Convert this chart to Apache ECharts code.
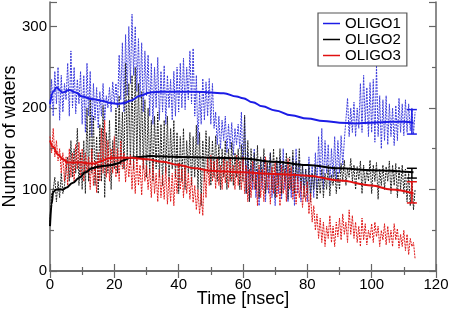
<!DOCTYPE html>
<html>
<head>
<meta charset="utf-8">
<script src="https://cdn.jsdelivr.net/npm/echarts@6/dist/echarts.min.js"></script>
<style>
  html, body { margin: 0; padding: 0; background: #fff; }
  #chart { width: 450px; height: 311px; }
</style>
</head>
<body>
<div id="chart"></div>
<script>
// raw trajectories, one value every 0.5 ns from t = 0
var dt = 0.5;
var oligo1Raw = [
  200,235,190,245,205,250,185,240,195,230, 210,255,190,270,200,250,193,235,205,245,
  180,240,170,255,190,245,165,230,185,225, 175,220,190,230,185,215,200,225,195,232,
  205,230,200,265,210,280,195,290,215,300, 230,315,240,300,220,285,212,280,195,270,
  215,265,190,255,180,250,200,262,185,245, 195,252,180,240,200,235,185,245,190,250,
  195,255,200,261,198,250,210,270,205,273, 190,240,155,220,180,236,185,232,190,236,
  180,230,175,195,155,190,150,185,160,190, 145,180,150,182,142,175,155,180,150,195,
  120,190,95,145,85,130,100,150,90,125, 80,135,100,140,85,130,95,145,90,120,
  80,135,95,140,88,150,100,130,85,125, 90,140,80,150,95,135,85,130,100,125,
  85,140,95,130,90,145,100,165,110,175, 100,160,120,155,105,150,115,165,110,160,
  120,166,130,160,160,212,165,200,170,207, 165,200,175,230,170,240,180,225,165,231,
  170,235,158,252,165,215,150,210,160,215, 155,205,165,200,154,203,160,212,170,205,
  166,210,170,205,172,200,168,195
];
var oligo2Raw = [
  60,95,100,115,85,110,90,120,95,105, 105,140,110,160,115,150,120,175,105,145,
  100,160,95,200,110,212,120,190,105,165, 95,180,110,203,90,170,120,185,100,160,
  125,200,120,215,130,195,125,255,140,230, 130,240,125,250,135,230,140,220,125,210,
  115,200,120,185,110,190,125,195,115,180, 105,185,120,190,110,175,125,185,115,170,
  95,165,110,175,100,160,120,170,105,165, 115,179,100,170,80,160,110,172,120,165,
  105,160,115,166,110,155,100,150,115,160, 100,150,110,158,105,145,115,150,100,155,
  110,191,95,160,85,150,110,145,100,154, 90,140,110,150,95,135,115,145,100,150,
  90,140,105,150,95,135,110,145,88,140, 100,148,95,135,110,150,100,130,90,125,
  95,128,85,120,100,130,88,115,95,125, 90,120,100,130,92,118,105,128,95,122,
  100,132,110,136,105,125,115,138,110,130, 100,128,112,135,95,130,105,125,110,136,
  95,130,110,133,88,125,105,130,100,128, 110,135,95,130,105,132,90,128,100,130,
  95,125,85,120,80,115,75,100
];
var oligo3Raw = [
  165,145,175,140,160,135,150,120,145,110, 140,105,150,115,145,110,155,125,158,115,
  150,110,145,120,140,100,150,105,135,96, 145,110,175,120,185,115,160,110,150,120,
  165,115,150,110,160,125,145,109,140,115, 142,100,135,95,140,105,130,93,138,110,
  130,100,125,90,133,95,120,85,125,90, 118,88,128,82,115,85,120,80,125,95,
  133,100,125,90,130,95,120,88,115,84, 105,75,100,70,95,68,125,90,140,105,
  142,110,135,101,140,105,130,100,138,108, 135,102,140,110,130,100,142,105,135,100,
  140,95,130,85,125,90,135,100,120,80, 130,90,125,85,140,100,120,82,128,95,
  135,90,120,80,130,95,125,85,138,100, 128,88,120,82,115,90,110,78,105,85,
  110,70,95,60,80,50,70,40,65,35, 60,30,55,40,68,35,55,30,60,42,
  65,38,70,45,60,35,75,45,68,40, 60,35,55,30,65,38,58,32,50,40,
  58,35,60,42,55,30,50,38,58,32, 55,35,50,30,58,38,52,28,45,30,
  50,25,45,20,40,30,35,15
];

// running averages (time, value)
var oligo1AvgT = [0,1,2,4,6,8,10,13,16,19,21,23,25,28,31,35,40,45,50,54,58,60,63,66,70,75,80,85,90,95,100,106,110,113];
var oligo1AvgV = [205,220,225,219,222,219,214,211,209,206,205,206,209,215,219,220,220,220,219,218,214,212,207,202,197,191,187,184,182,181,182,183,183,182];
var oligo2AvgT = [0,0.5,1,2,4,5,7,9,11,13,15,17,19,21,23,25,28,31,40,50,60,70,80,90,100,113];
var oligo2AvgV = [55,82,97,100,100,102,108,114,121,126,128,129,130,132,136,139,140,141,140,139,138,134,130,126,123.5,121];
var oligo3AvgT = [0,1,2.5,4,5.6,8,10,12,14,16,18,20,25,30,35,40,45,50,55,60,70,80,90,100,106,113];
var oligo3AvgV = [160,152,143,137,133,133,133,132,132,135,138,139,139,137,134,130,126,123,122,121,119,117,111,105,100,95];

// error bars at the end of the runs
var errT = [112.5, 112.5, 112.5];
var errLow = [168, 114, 83.5];
var errHigh = [198, 126, 109.5];

var names = ['OLIGO1', 'OLIGO2', 'OLIGO3'];
var avgColors = ['#1c1ce6', '#000000', '#e01010'];
var rawColors = ['#3c3cdc', '#222222', '#e01818'];

function rawPairs(arr) {
  return arr.map(function (v, i) { return [i * dt, v]; });
}
function avgPairs(ts, vs) {
  return ts.map(function (t, i) { return [t, vs[i]]; });
}

var chart = echarts.init(document.getElementById('chart'));
var frame = '#666';
var font = 'Liberation Sans';

var series = [];
[oligo1Raw, oligo2Raw, oligo3Raw].forEach(function (arr, k) {
  series.push({
    name: names[k] + ' raw',
    type: 'line',
    data: rawPairs(arr),
    showSymbol: false,
    symbol: 'none',
    silent: true,
    animation: false,
    lineStyle: { color: rawColors[k], width: 1, type: [2, 1] },
    z: 2
  });
});
[[oligo1AvgT, oligo1AvgV], [oligo2AvgT, oligo2AvgV], [oligo3AvgT, oligo3AvgV]].forEach(function (p, k) {
  series.push({
    name: names[k],
    type: 'line',
    data: avgPairs(p[0], p[1]),
    smooth: 0.4,
    smoothMonotone: 'x',
    showSymbol: false,
    symbol: 'none',
    animation: false,
    itemStyle: { color: avgColors[k] },
    lineStyle: { color: avgColors[k], width: 2 },
    z: 4
  });
});
series.push({
  type: 'custom',
  animation: false,
  silent: true,
  z: 5,
  data: errT.map(function (t, i) { return [t, errLow[i], errHigh[i], i]; }),
  renderItem: function (params, api) {
    var lo = api.coord([api.value(0), api.value(1)]);
    var hi = api.coord([api.value(0), api.value(2)]);
    var c = avgColors[api.value(3)];
    var w = 5;
    var st = { stroke: c, lineWidth: 1.5 };
    return {
      type: 'group',
      children: [
        { type: 'line', shape: { x1: lo[0], y1: lo[1], x2: hi[0], y2: hi[1] }, style: st },
        { type: 'line', shape: { x1: lo[0] - w, y1: lo[1], x2: lo[0] + w, y2: lo[1] }, style: st },
        { type: 'line', shape: { x1: hi[0] - w, y1: hi[1], x2: hi[0] + w, y2: hi[1] }, style: st }
      ]
    };
  }
});

function xAx(pos, labels) {
  return {
    type: 'value', position: pos, min: 0, max: 120, interval: 20,
    name: labels ? 'Time [nsec]' : '',
    nameLocation: 'middle', nameGap: 19, nameMoveOverlap: false,
    nameTextStyle: { fontFamily: font, fontSize: 18, color: '#000', verticalAlign: 'top' },
    axisLine: { show: true, lineStyle: { color: frame, width: 1.5 } },
    axisTick: { show: true, inside: true, length: 7, lineStyle: { color: frame, width: 1.2 } },
    minorTick: { show: true, splitNumber: 2, length: 4, lineStyle: { color: frame, width: 1.2 } },
    axisLabel: { show: labels, margin: 6, fontFamily: font, fontSize: 15, color: '#000' },
    splitLine: { show: false }
  };
}
function yAx(pos, labels) {
  return {
    type: 'value', position: pos, min: 0, max: 330, interval: 100,
    name: labels ? 'Number of waters' : '',
    nameLocation: 'middle', nameGap: 31, nameRotate: 90, nameMoveOverlap: false,
    nameTextStyle: { fontFamily: font, fontSize: 18, color: '#000' },
    axisLine: { show: true, onZero: false, lineStyle: { color: frame, width: 1.5 } },
    axisTick: { show: true, inside: true, length: 7, lineStyle: { color: frame, width: 1.2 } },
    minorTick: { show: true, splitNumber: 2, length: 4, lineStyle: { color: frame, width: 1.2 } },
    axisLabel: { show: labels, margin: 3, fontFamily: font, fontSize: 15, color: '#000', showMaxLabel: false },
    splitLine: { show: false }
  };
}

var option = {
  backgroundColor: '#fff',
  animation: false,
  grid: { left: 50, right: 14, top: 2, bottom: 40, containLabel: false, outerBoundsMode: 'none' },
  xAxis: [xAx('bottom', true), xAx('top', false)],
  yAxis: [yAx('left', true), yAx('right', false)],
  legend: {
    data: names,
    orient: 'vertical',
    left: 318, top: 13,
    icon: 'rect',
    itemWidth: 17, itemHeight: 1.5,
    itemGap: 1,
    padding: [3, 6, 3, 5],
    backgroundColor: '#fff',
    borderColor: '#555',
    borderWidth: 1.2,
    borderRadius: 0,
    textStyle: { fontFamily: font, fontSize: 15, color: '#000', lineHeight: 15 }
  },
  series: series
};
chart.setOption(option);
</script>
</body>
</html>
